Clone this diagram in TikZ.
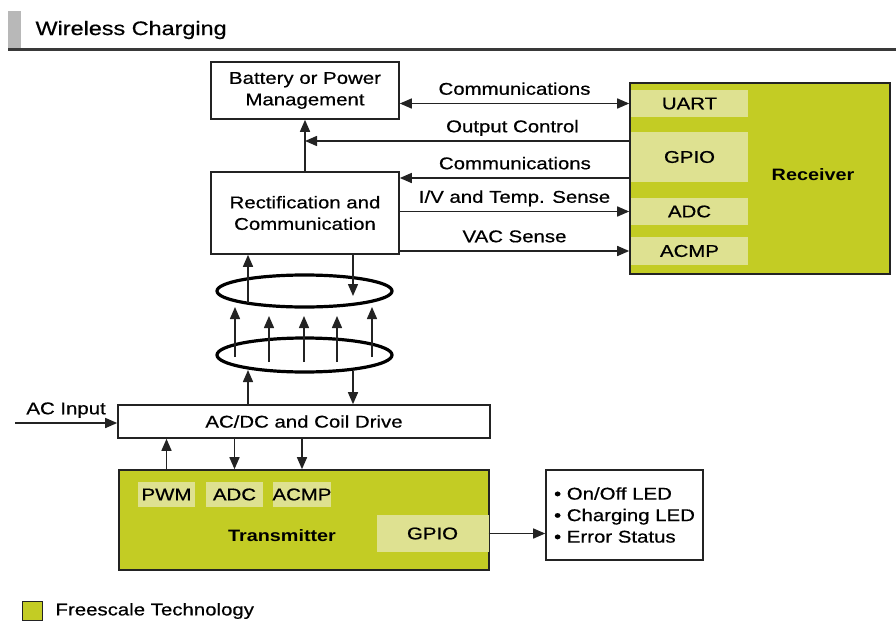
\documentclass[tikz,border=0pt]{standalone}
\usepackage{fontspec}
\setmainfont[FakeStretch=1.2,UprightFeatures={FakeBold=0.6}]{Liberation Sans}
\usetikzlibrary{arrows.meta,shapes.geometric}
\definecolor{fsgreen}{RGB}{195,204,36}
\definecolor{fslight}{RGB}{222,225,145}
\definecolor{edge}{RGB}{35,35,35}
\begin{document}
\begin{tikzpicture}[x=1pt,y=-1pt,
    font=\fontsize{17}{21.5}\selectfont,
    tip/.style={-{Triangle[length=12pt,width=10pt]},line width=1.5pt,draw=edge},
    tips/.style={{Triangle[length=12pt,width=10pt]}-{Triangle[length=12pt,width=10pt]},line width=1.5pt,draw=edge},
    blk/.style={draw=edge,line width=1.6pt,fill=white,align=center,inner sep=0pt},
    chip/.style={draw=edge,line width=1.6pt,fill=fsgreen,inner sep=0pt},
    port/.style={fill=fslight,inner sep=0pt},
    lbl/.style={above=2pt,inner sep=2pt,text height=12pt,text depth=4pt},
    bold/.style={font=\bfseries\fontsize{16.5}{19}\selectfont},
    coil/.style={ellipse,draw,line width=3.2pt,inner sep=0pt,minimum width=175pt}]
    \useasboundingbox (0,0) rectangle (896,621);
    \fill[black!28] (8,11) rectangle (21,48);
    \draw[line width=3pt,edge!90] (8,49) -- (896,49);
    \node[anchor=west,font=\fontsize{19.5}{22}\selectfont] (title) at (32,30) {Wireless Charging};

    \node[blk,minimum width=188pt,minimum height=57pt] (batt) at (305,90.5) {Battery or Power\\Management};
    \node[blk,minimum width=188pt,minimum height=82pt] (rect) at (305,213) {Rectification and\\Communication};

    \node[chip,minimum width=260pt,minimum height=191pt] (rx) at (760,178.5) {};
    \node[port,minimum width=117pt,minimum height=27pt] (uart) at (689.5,103.5) {UART};
    \node[port,minimum width=117pt,minimum height=50pt] (gpio) at (689.5,157) {GPIO};
    \node[port,minimum width=117pt,minimum height=27pt] (adc) at (689.5,211.5) {ADC};
    \node[port,minimum width=117pt,minimum height=28pt] (acmp) at (689.5,251) {ACMP};
    \node[bold] (rxname) at (813,175) {Receiver};

    \coordinate (oc) at (305,141);
    \coordinate (cm) at (630,178);
    \draw[tips] (batt.east |- uart) -- (rx.west |- uart) node[lbl,midway] {Communications};
    \draw[tip] (rx.west |- oc) -- (oc) node[lbl,pos=.36] {Output Control};
    \draw[tip] (cm) -- (cm -| rect.east) node[lbl,midway] {Communications};
    \draw[tip] (rect.east |- adc) -- (rx.west |- adc) node[lbl,midway] {I/V and Temp. Sense};
    \draw[tip] (rect.east |- acmp) -- (rx.west |- acmp) node[lbl,midway] {VAC Sense};
    \draw[tip] (rect.north) -- (batt.south);

    \node[coil,minimum height=32pt] (coilrx) at (304.5,291) {};
    \node[coil,minimum height=34pt] (coiltx) at (304.5,355) {};

    \node[blk,minimum width=372pt,minimum height=33pt] (acdc) at (304,421.5) {AC/DC and Coil Drive};

    \coordinate (up1) at (248,303);
    \coordinate (dn1) at (353,296);
    \coordinate (up2) at (248,370);
    \coordinate (dn2) at (353,371);
    \draw[tip] (up1) -- (up1 |- rect.south);
    \draw[tip] (dn1 |- rect.south) -- (dn1);
    \draw[tip] (up2 |- acdc.north) -- (up2);
    \draw[tip] (dn2) -- (dn2 |- acdc.north);
    \foreach \x/\a/\b in {235/357/307, 269/362/316, 304/362/316, 337/362/316, 372/357/307}
        \draw[tip] (\x,\a) -- (\x,\b);

    \coordinate (acin) at (15,423);
    \draw[tip] (acin) -- (acin -| acdc.west) node[lbl,midway] {AC Input};

    \node[chip,minimum width=370pt,minimum height=100pt] (tx) at (304,520) {};
    \node[port,minimum width=57pt,minimum height=25pt] (pwm) at (166.5,494.5) {PWM};
    \node[port,minimum width=57pt,minimum height=25pt] (tadc) at (234.5,494.5) {ADC};
    \node[port,minimum width=58pt,minimum height=25pt] (tacmp) at (302,494.5) {ACMP};
    \node[port,minimum width=112pt,minimum height=37pt] (tgpio) at (432.5,533.5) {GPIO};
    \node[bold] (txname) at (282,536) {Transmitter};

    \draw[tip] (pwm |- tx.north) -- (pwm |- acdc.south);
    \draw[tip] (tadc |- acdc.south) -- (tadc |- tx.north);
    \draw[tip] (tacmp |- acdc.south) -- (tacmp |- tx.north);

    \node[blk,minimum width=157pt,minimum height=90pt,align=left] (led) at (624.5,515)
        {\textbullet{} On/Off LED\\\textbullet{} Charging LED\\\textbullet{} Error Status};
    \draw[tip] (tgpio.east) -- (tgpio.east -| led.west);

    \node[draw=edge,line width=1pt,fill=fsgreen,minimum width=20pt,minimum height=19pt,inner sep=0pt] (key) at (32.5,611) {};
    \node[anchor=west] (keytext) at (52,611) {Freescale Technology};
\end{tikzpicture}
\end{document}
